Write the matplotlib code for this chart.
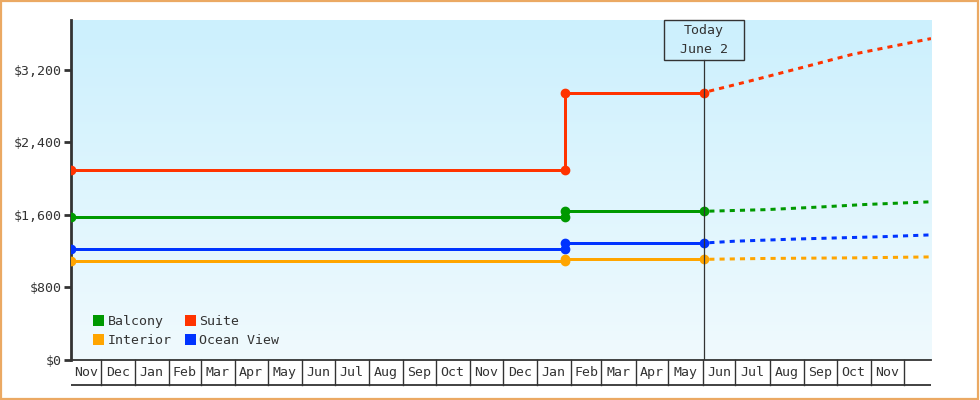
import matplotlib
matplotlib.use('Agg')
import matplotlib.pyplot as plt
import matplotlib.dates as mdates
import matplotlib.transforms as mtransforms
from matplotlib.patches import Rectangle, Patch
from matplotlib.ticker import FuncFormatter
import numpy as np
from datetime import date

# ---------------- data ----------------
x_start = date(2023, 11, 4)
x_end = date(2025, 12, 26)
change_date = date(2025, 1, 27)
today = date(2025, 6, 2)
today_label = "Today\nJune 2"

categories = ['Balcony', 'Suite', 'Interior', 'Ocean View']
price_before = [1580, 2100, 1095, 1225]
price_after = [1640, 2950, 1110, 1290]

balcony_fc_dates = [today, date(2025, 7, 28), date(2025, 9, 12), date(2025, 10, 27), x_end]
balcony_fc = [1640, 1658, 1685, 1715, 1745]
suite_fc_dates = [today, date(2025, 7, 15), date(2025, 9, 1), date(2025, 10, 15), x_end]
suite_fc = [2950, 3080, 3230, 3370, 3545]
interior_fc_dates = [today, date(2025, 7, 28), date(2025, 10, 20), x_end]
interior_fc = [1110, 1120, 1127, 1137]
ocean_fc_dates = [today, date(2025, 6, 30), date(2025, 8, 27), date(2025, 11, 12), x_end]
ocean_fc = [1290, 1310, 1335, 1360, 1380]

forecast_dates = [balcony_fc_dates, suite_fc_dates, interior_fc_dates, ocean_fc_dates]
forecast_vals = [balcony_fc, suite_fc, interior_fc, ocean_fc]

y_ticks = [0, 800, 1600, 2400, 3200]
y_max = 3750

# ---------------- style ----------------
colors = ['#009900', '#FF3300', '#FFA500', '#0033FF']
ink = '#333333'
FONT = 'DejaVu Sans Mono'
FS = 9.5

fig = plt.figure(figsize=(9.8, 4.0), dpi=100)
ax = fig.add_axes([71 / 980, 40 / 400, 860 / 980, 340 / 400])

# gradient background
grad = np.linspace(0, 1, 256).reshape(-1, 1)
top_c = np.array([204, 240, 253]) / 255
bot_c = np.array([240, 250, 254]) / 255
img = top_c[None, None, :] * (1 - grad[:, :, None]) + bot_c[None, None, :] * grad[:, :, None]
ax.imshow(img, extent=[0, 1, 0, 1], transform=ax.transAxes, aspect='auto', zorder=0)

# series
draw_order = [1, 0, 3, 2]
lw = 3 * 72 / 100
for i in draw_order:
    hx = [x_start, change_date, change_date, today]
    hy = [price_before[i], price_before[i], price_after[i], price_after[i]]
    ax.plot(hx, hy, color=colors[i], lw=lw, marker='o', ms=6.0, zorder=3,
            solid_joinstyle='miter', solid_capstyle='butt')
    ax.plot(forecast_dates[i], forecast_vals[i], color=colors[i], lw=lw,
            linestyle=(1.5, (1.7, 1.7)), zorder=3, dash_capstyle='butt')

ax.set_xlim(mdates.date2num(x_start), mdates.date2num(x_end))
ax.set_ylim(0, y_max)

# today marker
blend = mtransforms.blended_transform_factory(ax.transData, ax.transAxes)
t_num = mdates.date2num(today)
box_bottom = (360 - 60) / 340
ax.plot([t_num, t_num], [0, box_bottom], transform=blend, color=ink, lw=0.9, zorder=4)
half_w = 40 / (860 / (mdates.date2num(x_end) - mdates.date2num(x_start)))
ax.add_patch(Rectangle((t_num - half_w, box_bottom), 2 * half_w, 1 - box_bottom,
                       transform=blend, facecolor='none', edgecolor=ink, lw=1.0,
                       zorder=4, clip_on=False))
ax.text(t_num, (box_bottom + 1) / 2, today_label, transform=blend, ha='center',
        va='center', fontsize=FS, family=FONT, color=ink, linespacing=1.65, zorder=5)

# y axis
ax.set_yticks(y_ticks)
ax.yaxis.set_major_formatter(FuncFormatter(lambda v, p: f"${v:,.0f}"))
ax.tick_params(axis='y', length=5, width=2, color=ink, labelcolor=ink,
               labelsize=FS, pad=2)
for lab in ax.get_yticklabels():
    lab.set_family(FONT)
ax.set_xticks([])
for s in ['top', 'right']:
    ax.spines[s].set_visible(False)
ax.spines['left'].set_color(ink)
ax.spines['left'].set_linewidth(2)
ax.spines['bottom'].set_color(ink)
ax.spines['bottom'].set_linewidth(1.3)

# month cells under the axis
cell_h = -25 / 340
ax.plot([mdates.date2num(x_start), mdates.date2num(x_end)], [cell_h, cell_h],
        transform=blend, color=ink, lw=1.3, clip_on=False, solid_capstyle='butt')
y_, m_ = x_start.year, x_start.month
while True:
    ms = date(y_, m_, 1)
    ny, nm = (y_ + 1, 1) if m_ == 12 else (y_, m_ + 1)
    me = date(ny, nm, 1)
    if ms >= x_end:
        break
    seg_s = max(ms, x_start)
    seg_e = min(me, x_end)
    if ms > x_start:
        ax.plot([mdates.date2num(ms)] * 2, [0, cell_h], transform=blend, color=ink,
                lw=1.0, clip_on=False)
    if me <= x_end:
        mid = (mdates.date2num(seg_s) + mdates.date2num(seg_e)) / 2
        ax.text(mid, cell_h / 2, ms.strftime('%b'), transform=blend, ha='center',
                va='center', fontsize=FS, family=FONT, color=ink)
    y_, m_ = ny, nm

# legend
handles = [Patch(facecolor=colors[i], edgecolor='none') for i in [0, 2, 1, 3]]
labels = [categories[i] for i in [0, 2, 1, 3]]
leg = ax.legend(handles, labels, ncol=2, loc='lower left',
                bbox_to_anchor=(22 / 860, 13 / 340), frameon=False,
                handlelength=0.85, handleheight=0.85, handletextpad=0.25,
                columnspacing=1.0, labelspacing=0.45, borderpad=0, borderaxespad=0,
                prop={'family': FONT, 'size': FS})
for t in leg.get_texts():
    t.set_color(ink)

# outer border
fig.add_artist(Rectangle((0.001, 0.002), 0.997, 0.995, transform=fig.transFigure,
                         facecolor='none', edgecolor='#EBA963', lw=1.6))

fig.savefig('out.png', dpi=100, facecolor='white')
